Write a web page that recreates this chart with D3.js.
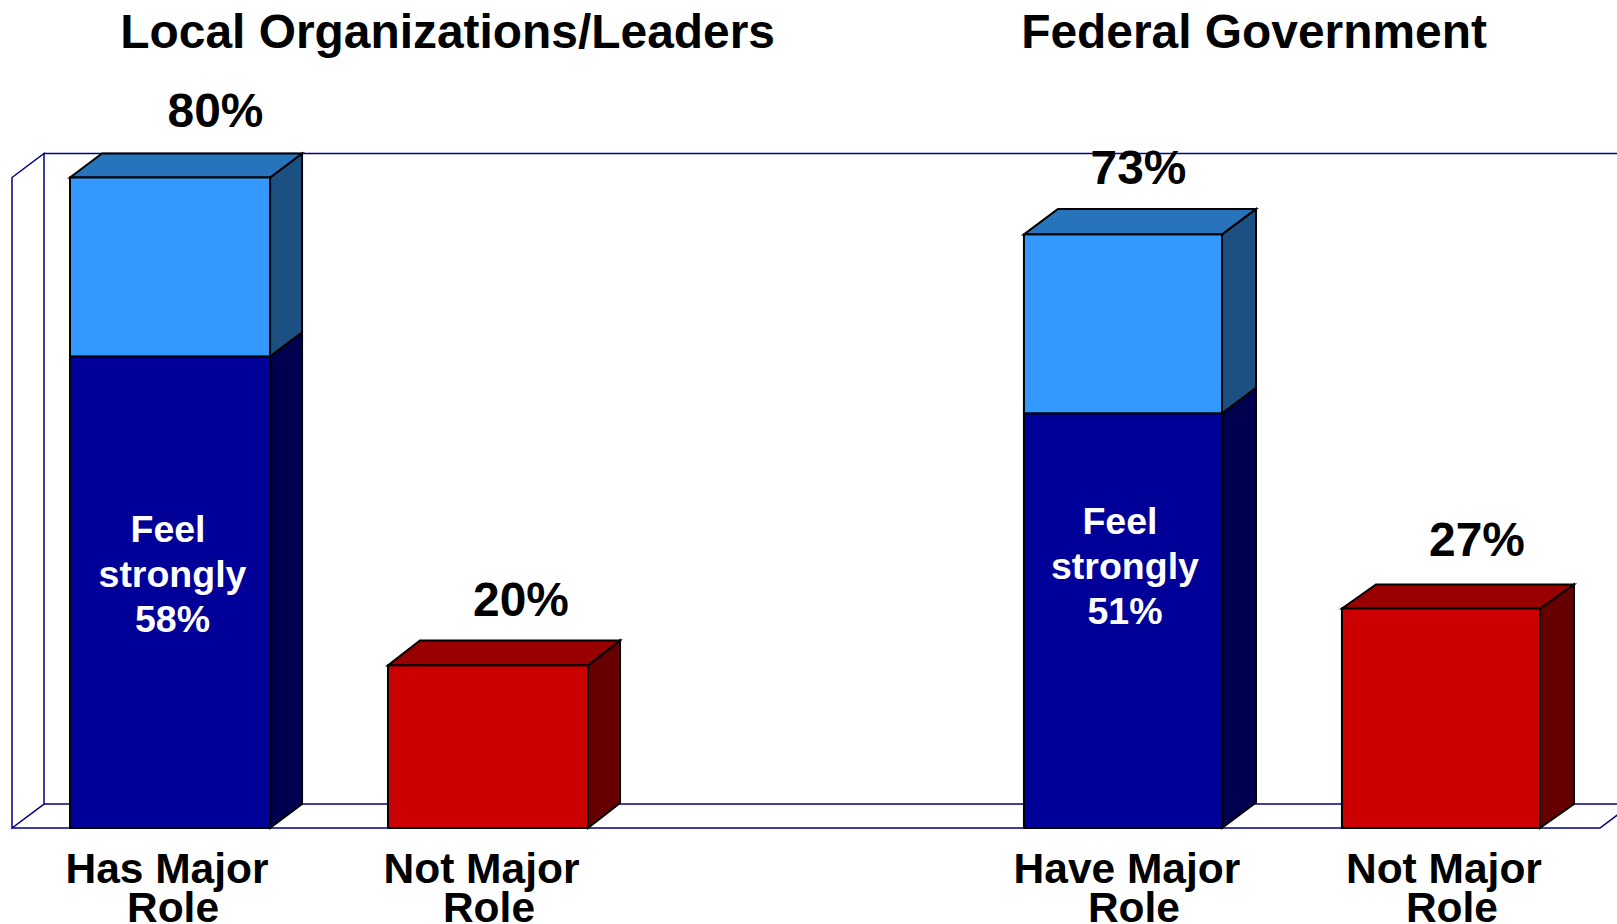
<!DOCTYPE html>
<html><head><meta charset="utf-8">
<script src="https://cdn.jsdelivr.net/npm/d3@7/dist/d3.min.js"></script>
<style>html,body{margin:0;padding:0;background:#fff;overflow:hidden}svg{display:block}
text{font-family:"Liberation Sans",Arial,sans-serif;font-weight:bold;text-anchor:middle}</style>
</head><body>
<script>
const panelTitles = ["Local Organizations/Leaders", "Federal Government"];
const slots = ["local-major", "local-not", "gap", "federal-major", "federal-not"];
const categoryLine1 = ["Has Major", "Not Major", null, "Have Major", "Not Major"];
const categoryLine2 = ["Role", "Role", null, "Role", "Role"];
const totalValues = [80, 20, null, 73, 27];
const strongValues = [58, null, null, 51, null];
const strongLabel = ["Feel", "strongly"];
const seriesKind = ["blue", "red", null, "blue", "red"];

const W = 1617, H = 924;
const svg = d3.select("body").append("svg").attr("width", W).attr("height", H);

const x = d3.scaleBand().domain(slots).range([70, 1541]).paddingInner(0.374).paddingOuter(0);
const y = d3.scaleLinear().domain([0, 80]).range([828, 177.5]);

const bwAdj = {"local-major":1,"local-not":1,"federal-major":-1,"federal-not":-1};
const depthX = {"local-major":32,"local-not":32,"federal-major":34,"federal-not":34};
const depthY = {"local-major":24,"local-not":25,"federal-major":25.5,"federal-not":24};
const pal = {
  blue:{front:"#3399FF",top:"#2874BC",side:"#1C5082"},
  navy:{front:"#000099",top:"#000099",side:"#000050"},
  red:{front:"#CC0000",top:"#990000",side:"#660000"}
};
const navy = "#000080";
const poly = pts => pts.map(p => p.join(",")).join(" ");

// chart walls
const wallD = {x:32, y:24};
const wall = svg.append("g").attr("fill","#fff").attr("stroke",navy).attr("stroke-width",1.5);
const wl = 12, wr = 1600;
wall.append("polygon").attr("points", poly([[wl,y(80)],[wl+wallD.x,y(80)-wallD.y],[wl+wallD.x,y(0)-wallD.y],[wl,y(0)]]));
wall.append("polyline").attr("fill","none").attr("points", poly([[wl+wallD.x,y(80)-wallD.y],[W+5,y(80)-wallD.y]]));
wall.append("polyline").attr("fill","none").attr("points", poly([[wl+wallD.x,y(0)-wallD.y],[W+5,y(0)-wallD.y]]));
wall.append("polyline").attr("fill","none").attr("points", poly([[wl,y(0)],[wr,y(0)],[wr+wallD.x,y(0)-wallD.y]]));

// bars
function box(g, id, lo, hi, c, withTop){
  const x0 = x(id), x1 = x0 + x.bandwidth() + bwAdj[id], dx = depthX[id], dy = depthY[id];
  const yb = y(lo), yt = y(hi);
  const s = g.append("g").attr("stroke","#000").attr("stroke-width",2).attr("stroke-linejoin","miter");
  s.append("polygon").attr("fill",c.side).attr("points",poly([[x1,yb],[x1+dx,yb-dy],[x1+dx,yt-dy],[x1,yt]]));
  if(withTop) s.append("polygon").attr("fill",c.top).attr("points",poly([[x0,yt],[x0+dx,yt-dy],[x1+dx,yt-dy],[x1,yt]]));
  s.append("rect").attr("x",x0).attr("y",yt).attr("width",x1-x0).attr("height",yb-yt).attr("fill",c.front);
}
const bars = svg.append("g");
slots.forEach((id,i)=>{
  if(totalValues[i]==null) return;
  if(strongValues[i]!=null){
    box(bars,id,0,strongValues[i],pal.navy,false);
    box(bars,id,strongValues[i],totalValues[i],pal.blue,true);
  } else box(bars,id,0,totalValues[i],pal[seriesKind[i]],true);
});

// titles
const titleX = [447.6, 1254];
svg.selectAll("text.title").data(panelTitles).join("text").attr("class","title")
  .attr("x",(d,i)=>titleX[i]).attr("y",48).attr("font-size",47.9).attr("fill","#000").text(d=>d);

// value labels
const labelDx = [145.5,133,0,114.5,135];
const labelDy = [51,49,0,50,52];
slots.forEach((id,i)=>{
  if(totalValues[i]==null) return;
  svg.append("text").attr("x",x(id)+labelDx[i]).attr("y",y(totalValues[i])-labelDy[i])
    .attr("font-size",47.9).text(totalValues[i]+"%");
  svg.append("text").attr("x",x(id)+[97,93.5,0,103,102][i]).attr("y",883).attr("font-size",42.5).text(categoryLine1[i]);
  svg.append("text").attr("x",x(id)+[103,101,0,110,110][i]).attr("y",922).attr("font-size",42.5).text(categoryLine2[i]);
  if(strongValues[i]!=null){
    const cx = x(id), base = i===0 ? 542 : 534;
    const dxs = i===0 ? [98,102.5] : [96,101];
    [strongLabel[0],strongLabel[1],strongValues[i]+"%"].forEach((t,k)=>{
      svg.append("text").attr("x",cx+dxs[Math.min(k,1)]).attr("y",base+k*45)
        .attr("font-size",37.5).attr("fill","#fff").text(t);
    });
  }
});
</script>
</body></html>
